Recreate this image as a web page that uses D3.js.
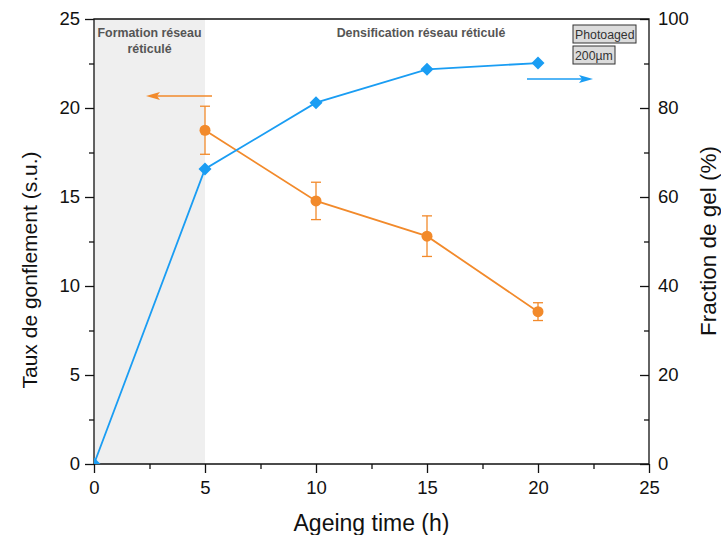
<!DOCTYPE html>
<html><head><meta charset="utf-8">
<script src="https://cdn.jsdelivr.net/npm/d3@7"></script>
<style>body{margin:0;background:#fff}svg{font-family:Arial,"Liberation Sans",sans-serif}</style>
</head><body><svg id="c" width="721" height="535"></svg>
<script>
const hours = [0, 5, 10, 15, 20];
const gelFraction = [0, 66.3, 81.2, 88.7, 90.1];
const swellHours = [5, 10, 15, 20];
const swellRatio = [18.75, 14.78, 12.8, 8.56];
const swellErr = [1.35, 1.05, 1.14, 0.5];
const xTicks = [0, 5, 10, 15, 20, 25];
const yLeftTicks = [0, 5, 10, 15, 20, 25];
const yRightTicks = [0, 20, 40, 60, 80, 100];

const svg = d3.select("#c");
const L = 94, R = 649, T = 19, B = 464;
const x = d3.scaleLinear().domain([0, 25]).range([L, R]);
const yL = d3.scaleLinear().domain([0, 25]).range([B, T]);
const yR = d3.scaleLinear().domain([0, 100]).range([B, T]);
const orange = "#f28a2b", blue = "#1a9df3";

svg.append("defs").append("clipPath").attr("id", "clip")
  .append("rect").attr("x", L).attr("y", T).attr("width", R - L).attr("height", B - T);

// shaded region
svg.append("rect").attr("x", x(0)).attr("y", T).attr("width", x(5) - x(0)).attr("height", B - T).attr("fill", "#efefef");

// axes
const fs = "18.5px";
function styleAxis(g) {
  g.selectAll("path").remove();
  g.selectAll("line").attr("stroke", "#111").attr("stroke-width", 1.3);
  g.selectAll("text").attr("font-size", fs).attr("fill", "#111");
}
const minorX = d3.range(2.5, 25, 5);
svg.append("g").attr("transform", `translate(0,${B})`)
  .call(d3.axisBottom(x).tickValues(xTicks).tickSize(9).tickPadding(8)).call(styleAxis);
svg.append("g").attr("transform", `translate(0,${B})`)
  .call(d3.axisBottom(x).tickValues(minorX).tickSize(5).tickFormat("")).call(styleAxis);
svg.append("g").attr("transform", `translate(${L},0)`)
  .call(d3.axisLeft(yL).tickValues(yLeftTicks).tickSize(9).tickPadding(5)).call(styleAxis);
svg.append("g").attr("transform", `translate(${L},0)`)
  .call(d3.axisLeft(yL).tickValues(d3.range(2.5, 25, 5)).tickSize(5).tickFormat("")).call(styleAxis);
const gr = svg.append("g").attr("transform", `translate(${R},0)`)
  .call(d3.axisRight(yR).tickValues(yRightTicks).tickSize(-9).tickPadding(8)).call(styleAxis);
gr.selectAll("text").attr("x", 9);
svg.append("g").attr("transform", `translate(${R},0)`)
  .call(d3.axisRight(yR).tickValues(d3.range(10, 100, 20)).tickSize(-5).tickFormat("")).call(styleAxis);

// frame
svg.append("path").attr("d", `M${L},${B}V${T}H${R}V${B}H${L}`).attr("fill", "none").attr("stroke", "#111").attr("stroke-width", 1.3);

// axis titles
svg.append("text").attr("x", x(12.5)).attr("y", 531).attr("text-anchor", "middle").attr("font-size", "23px").attr("fill", "#111").text("Ageing time (h)");
svg.append("text").attr("transform", `translate(37,270) rotate(-90)`).attr("text-anchor", "middle").attr("font-size", "21px").attr("fill", "#111").text("Taux de gonflement (s.u.)");
svg.append("text").attr("transform", `translate(716,241) rotate(-90)`).attr("text-anchor", "middle").attr("font-size", "22.5px").attr("fill", "#111").text("Fraction de gel (%)");

// annotations
const ann = svg.append("g").attr("font-weight", "bold").attr("font-size", "12.4px").attr("fill", "#555").attr("text-anchor", "middle");
ann.append("text").attr("x", x(2.5)).attr("y", 37).text("Formation réseau");
ann.append("text").attr("x", x(2.5)).attr("y", 53).text("réticulé");
ann.append("text").attr("x", 421).attr("y", 37).text("Densification réseau réticulé");

// boxes
function box(xp, yp, w, h, t) {
  svg.append("rect").attr("x", xp).attr("y", yp).attr("width", w).attr("height", h).attr("fill", "#dcdcdc").attr("stroke", "#333").attr("stroke-width", 1);
  svg.append("text").attr("x", xp + 2).attr("y", yp + h - 4).attr("font-size", "12.3px").attr("fill", "#333").text(t);
}
box(573, 25, 63, 18, "Photoaged");
box(573, 46, 42, 18, "200µm");

// arrows
function arrow(x1, x2, yy, c) {
  const dir = Math.sign(x2 - x1);
  svg.append("line").attr("x1", x1).attr("x2", x2 - dir * 10).attr("y1", yy).attr("y2", yy).attr("stroke", c).attr("stroke-width", 1.6);
  svg.append("path").attr("d", `M${x2},${yy}L${x2 - dir * 14},${yy - 4}L${x2 - dir * 11},${yy}L${x2 - dir * 14},${yy + 4}Z`).attr("fill", c);
}
arrow(212, 146, 96, orange);
arrow(527, 593, 79, blue);

const plot = svg.append("g").attr("clip-path", "url(#clip)");

// orange series
const oData = swellHours.map((h, i) => ({ h, v: swellRatio[i], e: swellErr[i] }));
plot.append("path").datum(oData).attr("fill", "none").attr("stroke", orange).attr("stroke-width", 1.8)
  .attr("d", d3.line().x(d => x(d.h)).y(d => yL(d.v)));
const eb = svg.append("g").attr("stroke", orange).attr("stroke-width", 1.3);
oData.forEach(d => {
  eb.append("line").attr("x1", x(d.h)).attr("x2", x(d.h)).attr("y1", yL(d.v + d.e)).attr("y2", yL(d.v - d.e));
  eb.append("line").attr("x1", x(d.h) - 5).attr("x2", x(d.h) + 5).attr("y1", yL(d.v + d.e)).attr("y2", yL(d.v + d.e));
  eb.append("line").attr("x1", x(d.h) - 5).attr("x2", x(d.h) + 5).attr("y1", yL(d.v - d.e)).attr("y2", yL(d.v - d.e));
});
svg.append("g").selectAll("circle").data(oData).join("circle")
  .attr("cx", d => x(d.h)).attr("cy", d => yL(d.v)).attr("r", 5.5).attr("fill", orange);

// blue series
const bData = hours.map((h, i) => ({ h, v: gelFraction[i] }));
plot.append("path").datum(bData).attr("fill", "none").attr("stroke", blue).attr("stroke-width", 1.8)
  .attr("d", d3.line().x(d => x(d.h)).y(d => yR(d.v)));
plot.selectAll("path.dm").data(bData).join("path").attr("class", "dm")
  .attr("d", d => { const cx = x(d.h), cy = yR(d.v), s = 6.5; return `M${cx},${cy - s}L${cx + s},${cy}L${cx},${cy + s}L${cx - s},${cy}Z`; })
  .attr("fill", blue);
</script></body></html>
